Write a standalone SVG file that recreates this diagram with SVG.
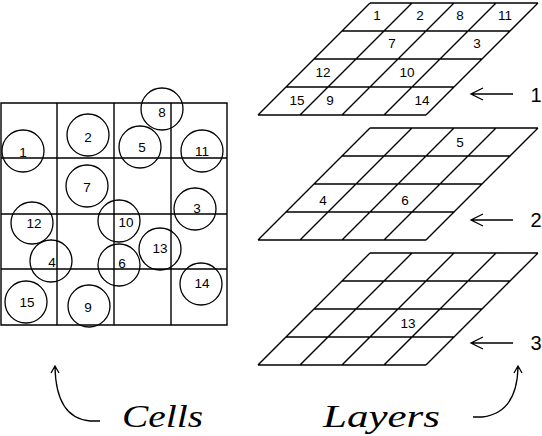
<svg xmlns="http://www.w3.org/2000/svg" width="542" height="436" viewBox="0 0 542 436">
<defs>
<style>
.ln{stroke:#000;stroke-width:1.4;fill:none}
.c{stroke:#000;stroke-width:1.3;fill:none}
.n{font-family:"Liberation Sans",Arial,sans-serif;font-size:13.5px;fill:#000;text-anchor:middle}
.big{font-family:"Liberation Sans",Arial,sans-serif;font-size:20px;fill:#000;text-anchor:middle}
.it{font-family:"Liberation Serif","Times New Roman",serif;font-style:italic;font-size:31px;fill:#000}
.ar{stroke:#000;stroke-width:1.3;fill:none}
</style>
<g id="layergrid">
<path class="ln" d="M370 0H538M342 28H510M314 56H482M286 84H454M258 112H426M370 0L258 112M412 0L300 112M454 0L342 112M496 0L384 112M538 0L426 112"/>
</g>
</defs>

<g id="cells">
<path class="ln" d="M1 103H227V325H1ZM57 103V325M114 103V325M171 103V325M1 158H227M1 214H227M1 269H227"/>
<g id="c8"><circle class="c" cx="162" cy="109" r="21"/><text class="n" x="162" y="116.5">8</text></g>
<g id="c2"><circle class="c" cx="88" cy="135" r="21"/><text class="n" x="88" y="141.5">2</text></g>
<g id="c1"><circle class="c" cx="23" cy="151" r="21"/><text class="n" x="23" y="156.5">1</text></g>
<g id="c5"><circle class="c" cx="140" cy="147" r="21"/><text class="n" x="142" y="151.5">5</text></g>
<g id="c11"><circle class="c" cx="202" cy="151" r="21"/><text class="n" x="202" y="155.5">11</text></g>
<g id="c7"><circle class="c" cx="87" cy="186" r="21"/><text class="n" x="87" y="191.5">7</text></g>
<g id="c12"><circle class="c" cx="32" cy="223" r="21"/><text class="n" x="34" y="227.5">12</text></g>
<g id="c10"><circle class="c" cx="119" cy="221" r="21"/><text class="n" x="126" y="226.5">10</text></g>
<g id="c3"><circle class="c" cx="195" cy="209" r="21"/><text class="n" x="197" y="212.5">3</text></g>
<g id="c13"><circle class="c" cx="160" cy="249" r="21"/><text class="n" x="160" y="252.5">13</text></g>
<g id="c4"><circle class="c" cx="51" cy="261" r="21"/><text class="n" x="52" y="266.5">4</text></g>
<g id="c6"><circle class="c" cx="119" cy="265" r="21"/><text class="n" x="122" y="267.5">6</text></g>
<g id="c14"><circle class="c" cx="201" cy="284" r="21"/><text class="n" x="202" y="287.5">14</text></g>
<g id="c15"><circle class="c" cx="26" cy="302" r="21"/><text class="n" x="27" y="306.5">15</text></g>
<g id="c9"><circle class="c" cx="89" cy="306" r="21"/><text class="n" x="88" y="311.5">9</text></g>
</g>

<g id="layer1">
<use href="#layergrid" x="0" y="3"/>
<text class="n" x="377" y="19.5">1</text>
<text class="n" x="420" y="19.5">2</text>
<text class="n" x="460" y="19.5">8</text>
<text class="n" x="505" y="19.5">11</text>
<text class="n" x="392" y="47.5">7</text>
<text class="n" x="477" y="47.5">3</text>
<text class="n" x="323" y="76.5">12</text>
<text class="n" x="407" y="76.5">10</text>
<text class="n" x="297" y="104.5">15</text>
<text class="n" x="330" y="104.5">9</text>
<text class="n" x="422" y="104.5">14</text>
</g>

<g id="layer2">
<use href="#layergrid" x="0" y="128"/>
<text class="n" x="460" y="146.5">5</text>
<text class="n" x="323" y="204.5">4</text>
<text class="n" x="405" y="204.5">6</text>
</g>

<g id="layer3">
<use href="#layergrid" x="0" y="253"/>
<text class="n" x="408" y="327.5">13</text>
</g>

<g id="connectors">
<path class="ar" d="M513 94H471M483 88L471 94L483 100"/>
<path class="ar" d="M513 220H471M483 214L471 220L483 226"/>
<path class="ar" d="M513 343H471M483 337L471 343L483 349"/>
<path class="ar" d="M100 421H90Q56 418 55 367M51 373L55 366L59 373"/>
<path class="ar" d="M473 417H482Q517 413 518 367M514 373L518 366L522 373"/>
</g>

<g id="labels">
<text class="big" x="536" y="102">1</text>
<text class="big" x="536" y="227">2</text>
<text class="big" x="536" y="350">3</text>
<text class="it" x="122" y="427" textLength="81" lengthAdjust="spacingAndGlyphs">Cells</text>
<text class="it" x="323" y="427" textLength="117" lengthAdjust="spacingAndGlyphs">Layers</text>
</g>
</svg>
